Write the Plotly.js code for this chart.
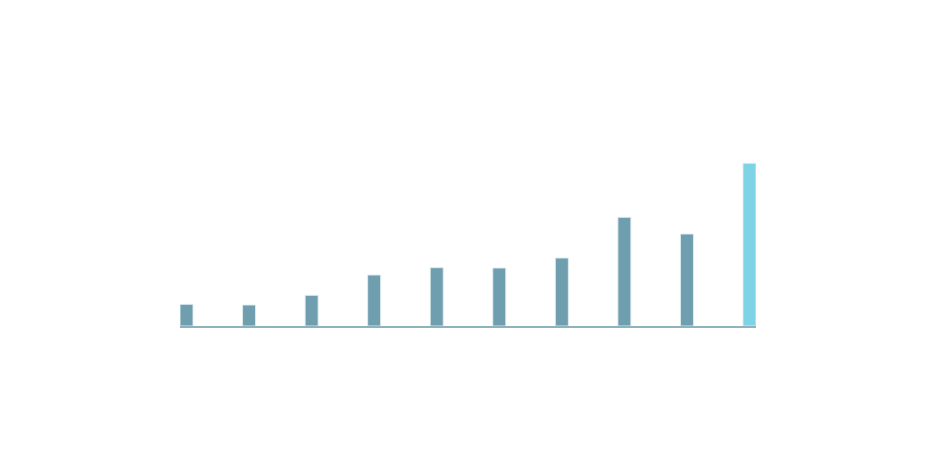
<!DOCTYPE html>
<html>
<head>
<meta charset="utf-8">
<script src="https://cdn.plot.ly/plotly-3.0.1.min.js"></script>
<style>
    html, body { margin: 0; padding: 0; background: #fff; }
    #chart { width: 950px; height: 460px; }
</style>
</head>
<body>
<div id="chart"></div>
<script>
// ── Data ──
const categories = ['1', '2', '3', '4', '5', '6', '7', '8', '9', '10'];
const values = [21.7, 21, 30.7, 51, 58.3, 58, 68, 108.7, 92, 162.7];

const baseColor = '#6f9eaf';
const highlightColor = '#7fd3e6';

const colors = categories.map((c, i) =>
    i === categories.length - 1 ? highlightColor : baseColor);

Plotly.newPlot('chart', [{
    x: categories,
    y: values,
    type: 'bar',
    marker: {
        color: colors,
        line: { color: 'rgba(225,238,242,0.9)', width: 1 },
    },
    hoverinfo: 'none',
}], {
    width: 950,
    height: 460,
    paper_bgcolor: '#fff',
    plot_bgcolor: '#fff',
    margin: { l: 180, r: 194, t: 60, b: 134 },
    bargap: 0.792,
    showlegend: false,
    xaxis: {
        type: 'category',
        range: [-0.104, 9.104],
        showgrid: false,
        zeroline: false,
        showticklabels: false,
        ticks: '',
        showline: true,
        linecolor: '#8fb3bd',
        linewidth: 1.5,
    },
    yaxis: {
        range: [0, 266],
        showgrid: false,
        zeroline: false,
        showticklabels: false,
        ticks: '',
        showline: false,
    },
}, { displayModeBar: false, staticPlot: true });
</script>
</body>
</html>
